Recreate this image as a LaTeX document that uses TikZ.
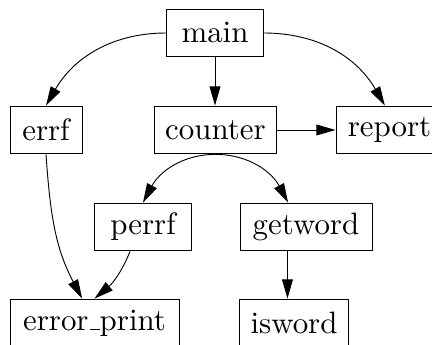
\documentclass[tikz,border=0pt]{standalone}
\usepackage{tikz}
\usetikzlibrary{arrows.meta,positioning}

% short low dash, as in the old OT1 \_
\newcommand{\lowdash}{\leavevmode\kern.06em\vbox{\hrule width.3em}}

\begin{document}
\begin{tikzpicture}[x=0.3236pt, y=-0.3236pt, line width=0.3pt,
    >={Triangle[length=6.2pt,width=3.5pt]},
    fn/.style={draw, rectangle, minimum height=15.5pt, inner xsep=2pt, inner ysep=0pt}]

    % Frame (clips the right and bottom boxes like the original)
    \useasboundingbox (0,0) rectangle (432,345);

    % Call graph nodes
    \node[fn, minimum width=31.1pt] (main)    at (215,33)    {main};
    \node[fn, minimum width=23.3pt] (errf)    at (46,130)    {errf};
    \node[fn, minimum width=39.2pt] (counter) at (215.5,130) {counter};
    \node[fn, minimum width=34.6pt] (report)  at (389.5,130) {report};
    \node[fn, minimum width=31.1pt] (perrf)   at (143,227)   {perrf};
    \node[fn, minimum width=42.7pt] (getword) at (306,227)   {getword};
    \node[fn, minimum width=54.7pt] (eprint)  at (94.5,323)  {error\lowdash print};
    \node[fn, minimum width=35pt]   (isword)  at (294,323)   {isword};

    % Calls from main
    \draw[->] (main.west) to[out=180,in=60] (errf.north);
    \draw[->] (main.east) to[out=0,in=120] ([xshift=-1.5pt]report.north);
    \draw[->] (main.south) -- (main.south |- counter.north);

    % Calls from counter
    \draw[->] (counter) -- (report);
    \draw[->] (counter.south) to[out=180,in=62] (perrf.north);
    \draw[->] (counter.south) to[out=0,in=118] ([xshift=-5.8pt]getword.north);

    % Lower level
    \draw[->] (errf.south) to[out=-86,in=118] ([xshift=-4pt]eprint.north);
    \draw[->] ([xshift=-4.2pt]perrf.south) to[out=-112,in=40] (eprint.north);
    \draw[->] ([xshift=-6pt]getword.south) coordinate (gs) -- (gs |- isword.north);

\end{tikzpicture}
\end{document}
